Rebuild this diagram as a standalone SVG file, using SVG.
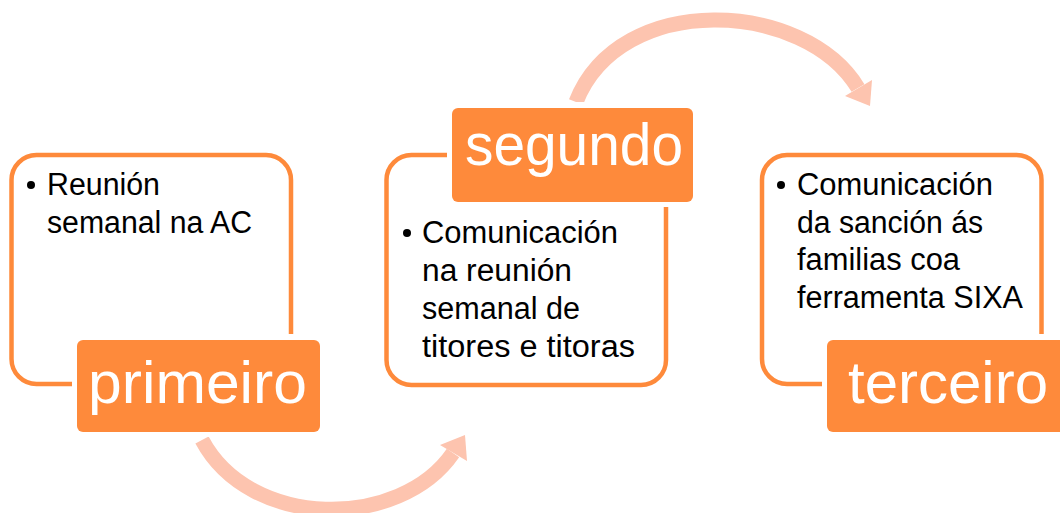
<svg xmlns="http://www.w3.org/2000/svg" width="1060" height="513" viewBox="0 0 1060 513">
<style>
.box{fill:#fff;stroke:#FE8A3B;stroke-width:4.5}
.gap{fill:#fff}
.lab{fill:#FE8A3B}
.labt{font-family:"Liberation Sans",Arial,sans-serif;font-size:60px;fill:#fff}
.body{font-family:"Liberation Sans",Arial,sans-serif;font-size:31px;fill:#000}
.arc{fill:none;stroke:#FDC4AF;stroke-width:15}
.head{fill:#FDC4AF}
</style>
<rect width="1060" height="513" fill="#fff"/>
<g id="connectors">
<path class="arc" d="M202,440 C250,530 400,530 453,453"/>
<polygon class="head" points="465,435 440,445 467,461"/>
<path class="arc" d="M576,102 C620,-10 805,0 858,88"/>
<polygon class="head" points="870,106 845,96 872,80"/>
</g>
<g id="node1">
<rect class="box" x="11.5" y="155" width="279.5" height="229" rx="25"/>
<circle cx="31" cy="185" r="4"/>
<text class="body" x="47" y="195" textLength="113" lengthAdjust="spacingAndGlyphs">Reunión</text>
<text class="body" x="47" y="232.5" textLength="205" lengthAdjust="spacingAndGlyphs">semanal na AC</text>
<rect class="gap" x="72" y="334" width="253" height="103" rx="8"/>
<rect class="lab" x="77" y="340" width="243" height="92" rx="6"/>
<text class="labt" x="88" y="403" textLength="219" lengthAdjust="spacingAndGlyphs">primeiro</text>
</g>
<g id="node2">
<rect class="box" x="386.5" y="155" width="279.5" height="230" rx="25"/>
<circle cx="407" cy="233" r="4"/>
<text class="body" x="422" y="243" textLength="196" lengthAdjust="spacingAndGlyphs">Comunicación</text>
<text class="body" x="422" y="281" textLength="150" lengthAdjust="spacingAndGlyphs">na reunión</text>
<text class="body" x="422" y="319" textLength="158" lengthAdjust="spacingAndGlyphs">semanal de</text>
<text class="body" x="422" y="357" textLength="213" lengthAdjust="spacingAndGlyphs">titores e titoras</text>
<rect class="gap" x="447" y="102" width="252" height="105" rx="8"/>
<rect class="lab" x="452" y="108" width="241" height="94" rx="6"/>
<text class="labt" x="465" y="165" textLength="218" lengthAdjust="spacingAndGlyphs">segundo</text>
</g>
<g id="node3">
<rect class="box" x="762" y="155" width="279.5" height="229" rx="25"/>
<circle cx="781" cy="185" r="4"/>
<text class="body" x="797" y="195" textLength="196" lengthAdjust="spacingAndGlyphs">Comunicación</text>
<text class="body" x="797" y="232.5" textLength="186" lengthAdjust="spacingAndGlyphs">da sanción ás</text>
<text class="body" x="797" y="270" textLength="163" lengthAdjust="spacingAndGlyphs">familias coa</text>
<text class="body" x="797" y="307.5" textLength="226" lengthAdjust="spacingAndGlyphs">ferramenta SIXA</text>
<rect class="gap" x="822" y="334" width="253" height="103" rx="8"/>
<rect class="lab" x="827" y="340" width="243" height="92" rx="6"/>
<text class="labt" x="848" y="403" textLength="200" lengthAdjust="spacingAndGlyphs">terceiro</text>
</g>
</svg>
